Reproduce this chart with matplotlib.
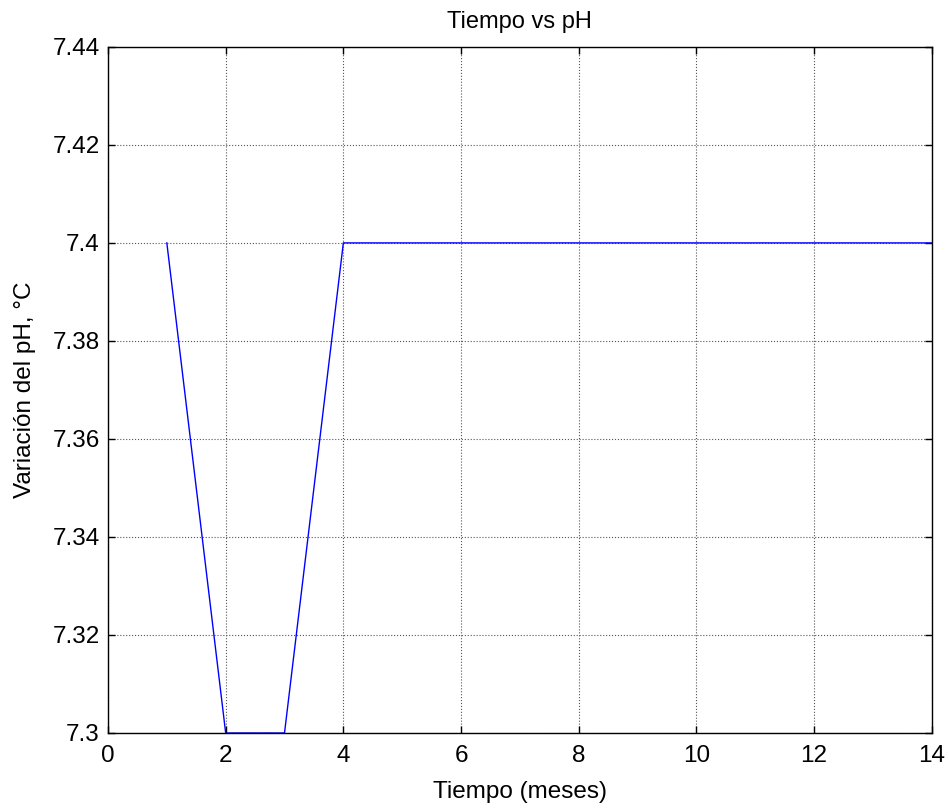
import matplotlib.pyplot as plt

# Datos: pH mensual
meses = [1, 2, 3, 4, 5, 6, 7, 8, 9, 10, 11, 12, 13, 14]
ph = [7.4, 7.3, 7.3, 7.4, 7.4, 7.4, 7.4, 7.4, 7.4, 7.4, 7.4, 7.4, 7.4, 7.4]

xticks = [0, 2, 4, 6, 8, 10, 12, 14]
yticks = [7.3, 7.32, 7.34, 7.36, 7.38, 7.4, 7.42, 7.44]
ytick_labels = ['7.3', '7.32', '7.34', '7.36', '7.38', '7.4', '7.42', '7.44']

plt.rcParams['font.family'] = ['Liberation Sans', 'DejaVu Sans']

fig = plt.figure(figsize=(9.49, 8.11), dpi=100)
ax = fig.add_axes([0.1138, 0.0962, 0.868, 0.846])

ax.plot(meses, ph, color='blue', linewidth=1)

ax.set_xlim(0, 14)
ax.set_ylim(7.3, 7.44)
ax.set_xticks(xticks)
ax.set_yticks(yticks)
ax.set_yticklabels(ytick_labels)
ax.tick_params(direction='in', top=True, right=True, length=5, labelsize=17.5, width=1)
ax.tick_params(axis='x', pad=9)
ax.tick_params(axis='y', pad=6)
ax.grid(True, linestyle=':', color='#555555', linewidth=0.8)
for s in ax.spines.values():
    s.set_linewidth(1)

ax.set_xlabel('Tiempo (meses)', fontsize=17.5, labelpad=10)
ax.set_ylabel('Variación del pH, °C', fontsize=17.5, labelpad=12)
ax.set_title('Tiempo vs pH', fontsize=17, pad=13.5)

plt.savefig('out.png', dpi=100)
